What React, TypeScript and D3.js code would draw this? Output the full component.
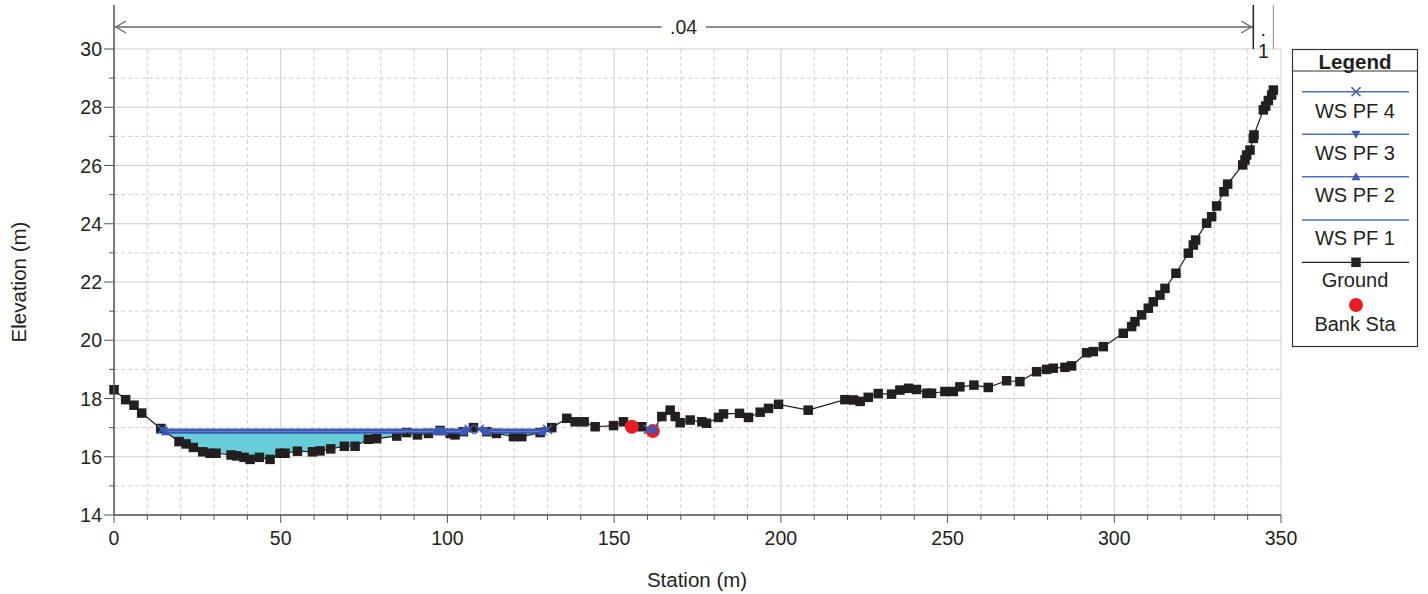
import React from "react";
import * as d3 from "d3";

// ---------- data ----------
const groundStation = [
  0, 3.5, 6.0, 8.3, 14.0, 19.5, 21.6, 23.8, 26.6, 28.8, 30.6, 35.1, 36.8, 39.0, 40.8, 43.6, 46.8, 49.8, 51.3, 55.0,
  59.5, 61.8, 65.0, 69.1, 72.3, 76.3, 78.8, 84.8, 87.8, 91.0, 94.3, 97.8, 100.8, 102.3, 104.8, 107.8, 111.8, 114.7,
  119.8, 122.3, 127.8, 131.3, 135.8, 138.3, 141.0, 144.3, 149.8, 152.8, 155.3, 158.3, 161.6, 164.3, 166.8, 168.3,
  169.8, 172.8, 176.3, 177.7, 181.3, 182.8, 187.6, 190.3, 193.8, 196.3, 199.3, 208.2, 219.2, 221.8, 223.8, 226.2,
  229.2, 233.2, 235.7, 238.3, 240.7, 243.8, 245.2, 249.2, 251.7, 253.7, 257.9, 262.2, 267.7, 271.7, 276.7, 279.7,
  281.7, 285.2, 287.2, 291.7, 293.7, 296.7, 302.7, 305.2, 306.2, 308.2, 310.2, 311.7, 313.7, 315.2, 318.5, 322.2,
  323.7, 324.4, 327.7, 329.2, 330.7, 332.9, 334.0, 338.5, 339.2, 339.7, 340.7, 341.7, 341.9, 344.7, 345.4, 346.2,
  347.2, 347.7,
];
const groundElev = [
  18.3, 17.96, 17.77, 17.5, 16.97, 16.52, 16.44, 16.32, 16.17, 16.12, 16.12, 16.06, 16.03, 15.98, 15.91, 15.98, 15.91,
  16.12, 16.12, 16.19, 16.17, 16.2, 16.27, 16.36, 16.36, 16.6, 16.62, 16.71, 16.83, 16.75, 16.8, 16.9, 16.8, 16.75,
  16.86, 17.0, 16.86, 16.8, 16.69, 16.69, 16.83, 17.0, 17.32, 17.2, 17.2, 17.03, 17.07, 17.2, 17.03, 17.03, 16.88,
  17.38, 17.6, 17.38, 17.17, 17.26, 17.2, 17.15, 17.35, 17.47, 17.49, 17.35, 17.53, 17.66, 17.8, 17.6, 17.96, 17.95,
  17.9, 18.04, 18.17, 18.15, 18.29, 18.35, 18.31, 18.18, 18.18, 18.24, 18.24, 18.4, 18.46, 18.38, 18.61, 18.58,
  18.92, 19.0, 19.04, 19.07, 19.12, 19.57, 19.61, 19.78, 20.24, 20.47, 20.64, 20.87, 21.1, 21.32, 21.55, 21.78, 22.3,
  22.99, 23.27, 23.44, 24.02, 24.24, 24.61, 25.1, 25.36, 26.02, 26.19, 26.36, 26.53, 26.93, 27.05, 27.91, 28.04,
  28.23, 28.42, 28.59,
];
const bankStation = [155.3, 161.6];
const bankElev = [17.03, 16.88];
const wsNames = ["WS PF 4", "WS PF 3", "WS PF 2", "WS PF 1"];
const wsElev = [16.94, 16.9, 16.86, 16.82];
const wsMarker = ["x", "down", "up", "none"];
const channelRange = [10, 165];
const nValues = [".04", ".1"];
const nStations = [0, 341.7, 347.7];
const xTicks = [0, 50, 100, 150, 200, 250, 300, 350];
const yTicks = [14, 16, 18, 20, 22, 24, 26, 28, 30];

// ---------- layout ----------
const W = 1428, H = 594;
const x = d3.scaleLinear().domain([0, 350]).range([114, 1281]);
const y = d3.scaleLinear().domain([14, 30]).range([515, 49]);
const FONT = "'Liberation Sans', Arial, sans-serif";
const ground = groundStation.map((s, i) => ({ s, e: groundElev[i] }));

function wetIntervals(level: number) {
  const out: [number, number][] = [];
  let start: number | null = null;
  const cross = (a: any, b: any) => a.s + ((level - a.e) / (b.e - a.e)) * (b.s - a.s);
  for (let i = 0; i < ground.length - 1; i++) {
    const a = ground[i], b = ground[i + 1];
    if (b.s < channelRange[0] || a.s > channelRange[1]) continue;
    const aw = a.e < level, bw = b.e < level;
    if (aw && start === null) start = a.s;
    if (!aw && bw) start = cross(a, b);
    if (aw && !bw && start !== null) {
      out.push([start, cross(a, b)]);
      start = null;
    }
  }
  return out;
}

function Marker({ type, cx, cy, color }: { type: string; cx: number; cy: number; color: string }) {
  const r = 4.5;
  if (type === "x")
    return (
      <path d={`M${cx - r},${cy - r}L${cx + r},${cy + r}M${cx - r},${cy + r}L${cx + r},${cy - r}`} stroke={color} strokeWidth={1.5} />
    );
  if (type === "down")
    return <path d={`M${cx - r},${cy - r * 0.8}L${cx + r},${cy - r * 0.8}L${cx},${cy + r}Z`} fill={color} />;
  if (type === "up")
    return <path d={`M${cx - r},${cy + r * 0.8}L${cx + r},${cy + r * 0.8}L${cx},${cy - r}Z`} fill={color} />;
  return null;
}

export default function App() {
  const line = d3
    .line<{ s: number; e: number }>()
    .x((d) => x(d.s))
    .y((d) => y(d.e));

  const xMinor = d3.range(0, 351, 10);
  const yMinor = d3.range(14, 30.01, 1);

  const lowest = wsElev[wsElev.length - 1];
  const fillPolys = wetIntervals(lowest).map(([a, b]) => {
    const pts = [{ s: a, e: lowest }, ...ground.filter((g) => g.s > a && g.s < b), { s: b, e: lowest }];
    return line(pts) + "Z";
  });

  const wsColor = "#3c5ab4";
  const legendBlue = "#4a6fc4";
  const sq = 9.5;
  const txt = "#231f20";

  const legendRows = [
    { ly: 91.7, ty: 110.7 },
    { ly: 134.3, ty: 152.7 },
    { ly: 176.7, ty: 195 },
    { ly: 220, ty: 238.3 },
  ];

  return (
    <div style={{ position: "absolute", left: 0, top: 0, width: W, height: H, background: "#fff" }}>
      <svg width={W} height={H} style={{ display: "block", fontFamily: FONT }}>
        <rect x={0} y={0} width={W} height={H} fill="#fff" />
        {/* grid */}
        {xMinor.map((v) => (
          <line
            key={"gx" + v}
            x1={x(v)}
            x2={x(v)}
            y1={y(14)}
            y2={y(30)}
            stroke="#cfcfcf"
            strokeWidth={1}
            strokeDasharray={v % 50 === 0 ? undefined : "4,3"}
          />
        ))}
        {yMinor.map((v) => (
          <line
            key={"gy" + v}
            x1={x(0)}
            x2={x(350)}
            y1={y(v)}
            y2={y(v)}
            stroke="#cfcfcf"
            strokeWidth={1}
            strokeDasharray={v % 2 === 0 ? undefined : "4,3"}
          />
        ))}

        {/* water fill */}
        {fillPolys.map((d, i) => (
          <path key={"f" + i} d={d} fill="#66cdd9" stroke="none" />
        ))}

        {/* ground */}
        <path d={line(ground) || ""} fill="none" stroke={txt} strokeWidth={1.2} />
        {ground.map((g, i) => (
          <rect key={"g" + i} x={x(g.s) - sq / 2} y={y(g.e) - sq / 2} width={sq} height={sq} fill={txt} />
        ))}

        {/* bank stations */}
        {bankStation.map((s, i) => (
          <circle key={"b" + i} cx={x(s)} cy={y(bankElev[i])} r={7} fill="#ec1c24" />
        ))}

        {/* WS lines and markers */}
        {wsElev.map((lv, k) => {
          const ints = wetIntervals(lv);
          return (
            <g key={"ws" + k}>
              {ints.map(([a, b], j) => (
                <line key={j} x1={x(a)} x2={x(b)} y1={y(lv)} y2={y(lv)} stroke={k === 2 ? "#5d7fd0" : wsColor} strokeWidth={1.6} />
              ))}
            </g>
          );
        })}
        {wsElev.map((lv, k) => {
          const ints = wetIntervals(lv);
          return (
            <g key={"wm" + k}>
              {ints.map(([a, b], j) => (
                <g key={"m" + j}>
                  <Marker type={wsMarker[k]} cx={x(a)} cy={y(lv)} color={wsColor} />
                  <Marker type={wsMarker[k]} cx={x(b)} cy={y(lv)} color={wsColor} />
                </g>
              ))}
            </g>
          );
        })}

        {/* axes */}
        <line x1={x(0)} x2={x(0)} y1={5} y2={y(14)} stroke="#555" strokeWidth={1.5} />
        <line x1={x(0)} x2={x(350)} y1={y(14)} y2={y(14)} stroke="#555" strokeWidth={1.5} />
        {xMinor.map((v) => (
          <line key={"tx" + v} x1={x(v)} x2={x(v)} y1={y(14)} y2={y(14) + (v % 50 === 0 ? 8 : 5)} stroke="#555" strokeWidth={1} />
        ))}
        {yMinor.map((v) => (
          <line key={"ty" + v} x1={x(0) - (v % 2 === 0 ? 10 : 5)} x2={x(0)} y1={y(v)} y2={y(v)} stroke="#555" strokeWidth={1} />
        ))}
        {xTicks.map((v) => (
          <text key={"lx" + v} x={x(v)} y={545} textAnchor="middle" fontSize={19.5} fill={txt}>
            {v}
          </text>
        ))}
        {yTicks.map((v) => (
          <text key={"ly" + v} x={102} y={y(v) + 7} textAnchor="end" fontSize={19.5} fill={txt}>
            {v}
          </text>
        ))}
        <text x={697} y={587} textAnchor="middle" fontSize={20.5} fill={txt}>
          Station (m)
        </text>
        <text transform={`translate(26,282) rotate(-90)`} textAnchor="middle" fontSize={20.5} fill={txt}>
          Elevation (m)
        </text>

        {/* Manning's n annotation */}
        <line x1={x(nStations[0])} x2={x(nStations[1])} y1={27} y2={27} stroke="#666" strokeWidth={1.5} />
        <path
          d={`M${x(nStations[0]) + 12},${21}L${x(nStations[0]) + 2},${27}L${x(nStations[0]) + 12},${33}`}
          fill="none"
          stroke="#666"
          strokeWidth={1.3}
        />
        <path
          d={`M${x(nStations[1]) - 12},${21}L${x(nStations[1]) - 2},${27}L${x(nStations[1]) - 12},${33}`}
          fill="none"
          stroke="#666"
          strokeWidth={1.3}
        />
        <rect x={(x(nStations[0]) + x(nStations[1])) / 2 - 22} y={16} width={44} height={22} fill="#fff" />
        <text x={(x(nStations[0]) + x(nStations[1])) / 2} y={34} textAnchor="middle" fontSize={19.5} fill={txt}>
          {nValues[0]}
        </text>
        <line x1={x(nStations[1])} x2={x(nStations[1])} y1={5} y2={y(30)} stroke={txt} strokeWidth={1.5} />
        <line x1={x(nStations[2])} x2={x(nStations[2])} y1={5} y2={y(30)} stroke="#888" strokeWidth={1} />
        <text x={(x(nStations[1]) + x(nStations[2])) / 2} y={58} textAnchor="middle" fontSize={19.5} fill={txt}>
          {nValues[1].slice(1)}
        </text>
        <text x={(x(nStations[1]) + x(nStations[2])) / 2} y={36} textAnchor="middle" fontSize={19.5} fill={txt}>
          {nValues[1].slice(0, 1)}
        </text>

        {/* legend */}
        <rect x={1292.5} y={49.5} width={125} height={297} fill="#fff" stroke="#333" strokeWidth={1.2} />
        <text x={1355} y={69} textAnchor="middle" fontSize={20.5} fontWeight="bold" fill={txt}>
          Legend
        </text>
        <line x1={1292.5} x2={1417.5} y1={71} y2={71} stroke="#333" strokeWidth={1.2} />
        {wsNames.map((n, i) => (
          <g key={"lg" + i}>
            <line x1={1302} x2={1409} y1={legendRows[i].ly} y2={legendRows[i].ly} stroke={legendBlue} strokeWidth={1.5} />
            <Marker type={wsMarker[i]} cx={1356} cy={legendRows[i].ly} color={wsColor} />
            <text x={1355} y={legendRows[i].ty + 7} textAnchor="middle" fontSize={20} fill={txt}>
              {n}
            </text>
          </g>
        ))}
        <line x1={1302} x2={1409} y1={262.3} y2={262.3} stroke={txt} strokeWidth={1.2} />
        <rect x={1356 - sq / 2} y={262.3 - sq / 2} width={sq} height={sq} fill={txt} />
        <text x={1355} y={287} textAnchor="middle" fontSize={20} fill={txt}>
          Ground
        </text>
        <circle cx={1356} cy={305} r={7} fill="#ec1c24" />
        <text x={1355} y={331} textAnchor="middle" fontSize={20} fill={txt}>
          Bank Sta
        </text>
      </svg>
    </div>
  );
}
